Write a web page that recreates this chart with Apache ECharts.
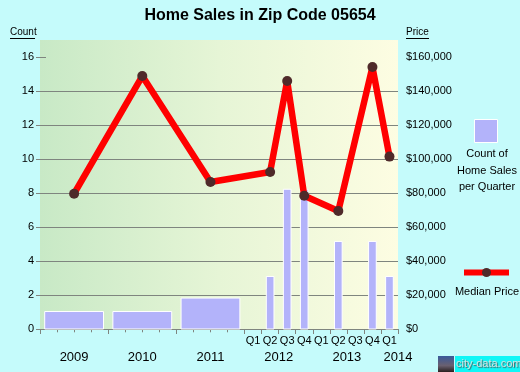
<!DOCTYPE html>
<html>
<head>
<meta charset="utf-8">
<script src="https://cdn.jsdelivr.net/npm/echarts@6/dist/echarts.min.js"></script>
<style>
  html, body { margin: 0; padding: 0; background: #c5fbfb; }
  #chart { width: 520px; height: 372px; }
</style>
</head>
<body>
<div id="chart"></div>
<script>
// yearly bars (2009-2011), quarterly bars (2012 Q1 - 2014 Q1)
var yearLabels = ['2009', '2010', '2011'];
var yearCounts = [1.03, 1.03, 1.82];
var quarterLabels = ['2012 Q1', '2012 Q2', '2012 Q3', '2012 Q4', '2013 Q1', '2013 Q2', '2013 Q3', '2013 Q4', '2014 Q1'];
var quarterCounts = [0, 3.09, 8.22, 8.22, 0, 5.15, 0, 5.15, 3.09];

// median price line
var pricePeriods = ['2009', '2010', '2011', '2012 Q2', '2012 Q3', '2012 Q4', '2013 Q2', '2013 Q4', '2014 Q1'];
var medianPrice = [79600, 148800, 86500, 92400, 145900, 78400, 69400, 154100, 101400];

// tick labels
var countTicks = [0, 2, 4, 6, 8, 10, 12, 14, 16];
var priceTicks = [0, 20000, 40000, 60000, 80000, 100000, 120000, 140000, 160000];
var axisYears = ['2009', '2010', '2011', '2012', '2013', '2014'];

var FONT = 'Liberation Sans, Arial, sans-serif';
var FIRST_YEAR = 2009;
var N_QUARTERS = 21;

// position along the quarter axis: years sit at their middle, quarters at their centre
function periodPos(label) {
  var parts = label.split(' Q');
  var base = (parseInt(parts[0], 10) - FIRST_YEAR) * 4;
  if (parts.length === 1) return base + 2;
  return base + parseInt(parts[1], 10) - 0.5;
}

var yearBarData = yearLabels.map(function (l, i) { return [periodPos(l), yearCounts[i], 3.45]; });
var quarterBarData = quarterLabels.map(function (l, i) { return [periodPos(l), quarterCounts[i], 0.45]; });
var priceData = pricePeriods.map(function (l, i) { return [periodPos(l), medianPrice[i]]; });

var quarterLabelPos = quarterLabels.map(periodPos);
var yearLabelPos = axisYears.map(function (y) { return Math.min(periodPos(y), N_QUARTERS); });

function renderBar(params, api) {
  var x = api.value(0), v = api.value(1), w = api.value(2);
  if (!v) return null;
  var p0 = api.coord([x - w / 2, v]);
  var p1 = api.coord([x + w / 2, 0]);
  return {
    type: 'rect',
    shape: { x: p0[0], y: p0[1], width: p1[0] - p0[0], height: p1[1] - p0[1] },
    style: { fill: '#b3b3fa', stroke: '#ffffff', lineWidth: 1 }
  };
}

function money(v) {
  return '$' + String(v).replace(/\B(?=(\d{3})+(?!\d))/g, ',');
}

var chart = echarts.init(document.getElementById('chart'));
chart.setOption({
  backgroundColor: '#c5fbfb',
  animation: false,
  textStyle: { fontFamily: FONT },
  grid: {
    left: 40, top: 40, width: 358, height: 289,
    show: true, borderWidth: 0,
    backgroundColor: new echarts.graphic.LinearGradient(0, 0, 1, 0, [
      { offset: 0, color: '#c8e9c6' },
      { offset: 0.5, color: '#e6f5d6' },
      { offset: 1, color: '#fdfde2' }
    ])
  },
  xAxis: [
    {
      type: 'value', min: 0, max: N_QUARTERS, interval: 1,
      axisLine: { show: true, lineStyle: { color: '#7f857f', width: 1 } },
      axisTick: { show: true, length: 5, lineStyle: { color: '#7f857f' },
        customValues: [0, 4, 8, 12, 13, 14, 15, 16, 17, 18, 19, 20, 21] },
      axisLabel: { show: false },
      splitLine: { show: false }
    },
    {
      type: 'value', min: 0, max: N_QUARTERS, position: 'bottom',
      axisLine: { show: false },
      axisTick: { show: true, length: 3.3, lineStyle: { color: '#7f857f' },
        customValues: [1, 2, 3, 5, 6, 7, 9, 10, 11] },
      axisLabel: {
        show: true, margin: 6, fontSize: 11, color: '#000', fontFamily: FONT,
        showMinLabel: true, showMaxLabel: true, hideOverlap: false,
        customValues: quarterLabelPos,
        formatter: function (v) { return 'Q' + (Math.round(v - 0.5) % 4 + 1); }
      },
      splitLine: { show: false }
    },
    {
      type: 'value', min: 0, max: N_QUARTERS, position: 'bottom',
      axisLine: { show: false },
      axisTick: { show: false },
      axisLabel: {
        show: true, margin: 22, fontSize: 13, color: '#000', fontFamily: FONT,
        showMinLabel: true, showMaxLabel: true,
        customValues: yearLabelPos,
        formatter: function (v) { return String(FIRST_YEAR + Math.floor(v / 4)); }
      },
      splitLine: { show: false }
    }
  ],
  yAxis: [
    {
      type: 'value', min: 0, max: 17, interval: 2, position: 'left',
      axisLine: { show: false },
      axisTick: { show: true, length: 4, lineStyle: { color: '#7f857f' }, customValues: countTicks },
      axisLabel: { margin: 6, fontSize: 11, color: '#000', fontFamily: FONT, customValues: countTicks },
      splitLine: { show: true, showMaxLine: false, lineStyle: { color: '#7f857f', width: 1 } }
    },
    {
      type: 'value', min: 0, max: 170000, interval: 20000, position: 'right',
      axisLine: { show: false },
      axisTick: { show: true, length: 6, lineStyle: { color: '#7f857f' }, customValues: priceTicks },
      axisLabel: { margin: 8, fontSize: 11, color: '#000', fontFamily: FONT, customValues: priceTicks,
        formatter: money },
      splitLine: { show: false }
    }
  ],
  series: [
    { type: 'custom', name: 'Count', xAxisIndex: 0, yAxisIndex: 0, renderItem: renderBar,
      data: yearBarData, encode: { x: 0, y: 1 }, z: 2 },
    { type: 'custom', name: 'Count Q', xAxisIndex: 0, yAxisIndex: 0, renderItem: renderBar,
      data: quarterBarData, encode: { x: 0, y: 1 }, z: 2 },
    {
      type: 'line', name: 'Median Price', xAxisIndex: 0, yAxisIndex: 1,
      data: priceData, z: 5,
      lineStyle: { color: '#ff0000', width: 6.5 },
      symbol: 'circle', symbolSize: 10,
      itemStyle: { color: '#4f2a2a' }
    }
  ],
  graphic: [
    { type: 'text', left: 'center', top: 8,
      style: { text: 'Home Sales in Zip Code 05654', font: 'bold 16px ' + FONT, fill: '#000' } },
    { type: 'text', x: 10, y: 27, style: { text: 'Count', font: '10px ' + FONT, fill: '#000' } },
    { type: 'line', shape: { x1: 10, y1: 38.5, x2: 35, y2: 38.5 }, style: { stroke: '#000', lineWidth: 1 } },
    { type: 'text', x: 406, y: 27, style: { text: 'Price', font: '10px ' + FONT, fill: '#000' } },
    { type: 'line', shape: { x1: 406, y1: 38.5, x2: 429, y2: 38.5 }, style: { stroke: '#000', lineWidth: 1 } },
    // legend
    { type: 'rect', shape: { x: 474.5, y: 119.5, width: 23, height: 23 },
      style: { fill: '#b3b3fa', stroke: '#ffffff', lineWidth: 1 } },
    { type: 'text', x: 487, y: 146,
      style: { text: 'Count of\nHome Sales\nper Quarter', font: '11px ' + FONT, fill: '#000',
        align: 'center', lineHeight: 16.5 } },
    { type: 'line', shape: { x1: 464, y1: 272.5, x2: 509, y2: 272.5 },
      style: { stroke: '#ff0000', lineWidth: 6 } },
    { type: 'circle', shape: { cx: 486.5, cy: 272.5, r: 4.5 }, style: { fill: '#4f2a2a' } },
    { type: 'text', x: 487, y: 286,
      style: { text: 'Median Price', font: '11px ' + FONT, fill: '#000', align: 'center' } },
    // watermark
    { type: 'rect', shape: { x: 438, y: 356, width: 16, height: 16 },
      style: { fill: new echarts.graphic.LinearGradient(0, 0, 0, 1, [
        { offset: 0, color: '#3a5a9a' }, { offset: 0.6, color: '#6a6070' }, { offset: 1, color: '#2a2020' }]) } },
    { type: 'rect', shape: { x: 455, y: 356, width: 65, height: 16 }, style: { fill: '#10f6f6' } },
    { type: 'text', x: 456, y: 358,
      style: { text: 'city-data.com', font: '11px ' + FONT, fill: '#d8e0e0',
        textShadowColor: '#406060', textShadowBlur: 1, textShadowOffsetX: 1, textShadowOffsetY: 1 } }
  ]
});
</script>
</body>
</html>
